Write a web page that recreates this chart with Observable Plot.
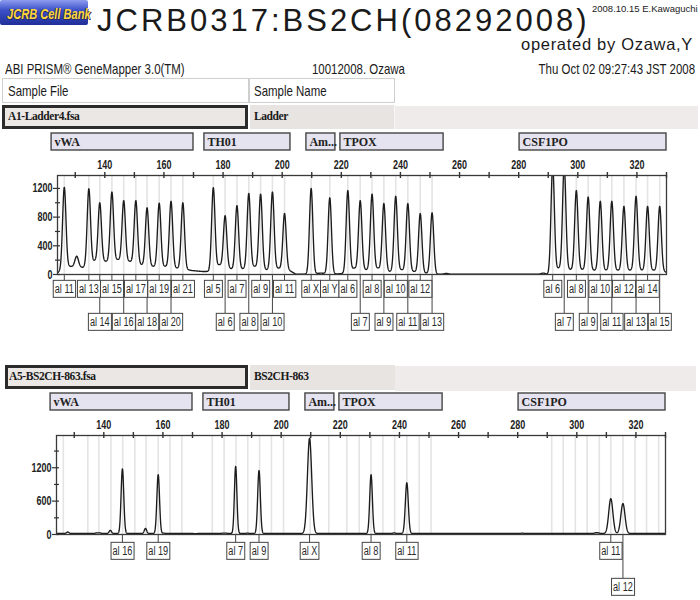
<!DOCTYPE html>
<html>
<head>
<meta charset="utf-8">
<script src="https://cdn.jsdelivr.net/npm/d3@7"></script>
<script src="https://cdn.jsdelivr.net/npm/@observablehq/plot@0.6"></script>
<style>
  html, body { margin: 0; padding: 0; background: #fff; }
  body { width: 700px; height: 600px; position: relative; overflow: hidden;
         font-family: "Liberation Sans", Arial, sans-serif; color: #1a1a1a; }
  .abs { position: absolute; white-space: nowrap; }
  .narrow { font-family: "Liberation Sans Narrow", "Arial Narrow", "Liberation Sans", sans-serif; transform: scaleX(0.79); transform-origin: 0 50%; }
  .narrowR { font-family: "Liberation Sans Narrow", "Arial Narrow", "Liberation Sans", sans-serif; transform: scaleX(0.79); transform-origin: 100% 50%; }
  .serifb { font-family: "Liberation Serif", "Times New Roman", serif; font-weight: bold; }
  .box { box-sizing: border-box; position: absolute; }
</style>
</head>
<body>
<div class="abs" style="left:0;top:0;width:88px;height:25px;background:linear-gradient(180deg,#8e9cf0 0%,#3d52c8 40%,#1f2f9a 100%);border-radius:2px;"></div>
<div class="abs narrow" style="left:7px;top:7px;font-size:14px;line-height:14px;font-weight:bold;font-style:italic;color:#ffd93b;text-shadow:1px 1px 0 #2a2a60,-1px 0 0 #2a2a60;">JCRB Cell Bank</div>

<div class="abs" style="left:97px;top:7px;font-size:31px;line-height:28px;letter-spacing:3px;">JCRB0317:BS2CH(08292008)</div>
<div class="abs" style="left:592px;top:4px;font-size:9.5px;line-height:9.5px;">2008.10.15 E.Kawaguchi</div>
<div class="abs" style="right:7px;top:36px;font-size:16.5px;line-height:16.5px;letter-spacing:0.7px;">operated by Ozawa,Y</div>

<div class="abs narrow" style="left:5px;top:62px;font-size:14.5px;line-height:14.5px;">ABI PRISM® GeneMapper 3.0(TM)</div>
<div class="abs narrow" style="left:312px;top:62px;font-size:14.5px;line-height:14.5px;">10012008. Ozawa</div>
<div class="abs narrowR" style="right:5px;top:62px;font-size:14.5px;line-height:14.5px;">Thu Oct 02 09:27:43 JST 2008</div>

<div class="box" style="left:2px;top:78px;width:247px;height:25px;border:1px solid #cfcfcf;background:#fff;"></div>
<div class="abs narrow" style="left:8px;top:84px;font-size:14.5px;line-height:14.5px;">Sample File</div>
<div class="box" style="left:249px;top:78px;width:146px;height:25px;border:1px solid #cfcfcf;background:#fff;"></div>
<div class="abs narrow" style="left:254px;top:84px;font-size:14.5px;line-height:14.5px;">Sample Name</div>

<div class="box" style="left:395px;top:106px;width:303px;height:23px;background:#efebea;"></div>
<div class="box" style="left:2px;top:105px;width:246px;height:24px;border:3px solid #2b2b2b;background:#ebe7e5;"></div>
<div class="abs serifb" style="left:8px;top:111px;font-size:11.5px;line-height:11.5px;letter-spacing:-0.4px;">A1-Ladder4.fsa</div>
<div class="box" style="left:250px;top:105px;width:145px;height:24px;background:#e8e4e2;border-right:1px solid #f6f6f6;"></div>
<div class="abs serifb" style="left:254px;top:111px;font-size:11.5px;line-height:11.5px;letter-spacing:-0.4px;">Ladder</div>

<div class="box" style="left:395px;top:366px;width:301px;height:25px;background:#efebea;"></div>
<div class="box" style="left:5px;top:365px;width:243px;height:24px;border:3px solid #2b2b2b;background:#ebe7e5;"></div>
<div class="abs serifb" style="left:9px;top:371px;font-size:11.5px;line-height:11.5px;letter-spacing:-0.4px;">A5-BS2CH-863.fsa</div>
<div class="box" style="left:250px;top:365px;width:145px;height:25px;background:#e8e4e2;"></div>
<div class="abs serifb" style="left:254px;top:371px;font-size:11.5px;line-height:11.5px;letter-spacing:-0.4px;">BS2CH-863</div>

<div id="top" class="abs" style="left:0;top:130px;"></div>
<div id="bottom" class="abs" style="left:0;top:390px;"></div>

<script>
// ---------------- data ----------------
const xDomain = [124, 330];
const xTickValues = d3.range(130, 331, 10);
const xLabelValues = [140, 160, 180, 200, 220, 240, 260, 280, 300, 320];

const locusNames = ["vWA", "TH01", "Am...", "TPOX", "CSF1PO"];
const locusStart = [122.0, 173.7, 208.2, 219.7, 280.3];
const locusEnd   = [170.0, 202.8, 218.0, 254.6, 330.0];

// Allelic ladder (top panel)
const ladderNames = ["al 11","al 13","al 14","al 15","al 16","al 17","al 18","al 19","al 20","al 21",
  "al 5","al 6","al 7","al 8","al 9","al 10","al 11",
  "al X","al Y",
  "al 6","al 7","al 8","al 9","al 10","al 11","al 12","al 13",
  "al 6","al 7","al 8","al 9","al 10","al 11","al 12","al 13","al 14","al 15"];
const ladderBp = [126.3,134.6,138.3,142.4,146.4,150.5,154.3,158.4,162.4,166.4,
  176.7,180.7,184.7,188.7,192.7,196.7,200.8,
  209.8,216.1,
  222.2,226.4,230.4,234.4,238.4,242.5,246.7,250.7,
  291.5,295.4,299.5,303.5,307.6,311.5,315.6,319.7,323.6,327.7];
const ladderHeight = [1215,1195,1000,1150,1030,1030,930,995,1020,1000,
  1210,820,960,1130,1120,1150,850,
  1200,1070,
  1170,1030,1120,990,1090,990,850,860,
  1520,1520,1170,1080,1020,1020,950,1090,950,950];
const ladderMinorBp = [130.5, 255.5, 288.3];
const ladderMinorHeight = [255, 15, 20];
const ladderBaseBp    = [124, 125, 125.6, 128.4, 132.6, 136.5, 140.4, 144.4, 148.5, 152.4, 156.4, 160.4, 164.4, 167.6, 169.5, 173, 175.2, 178.7, 182.7, 186.7, 190.7, 194.7, 198.7, 202.3, 204.6, 208.6, 213.0, 218.5, 221.0, 224.3, 228.4, 232.4, 236.4, 240.4, 244.6, 248.7, 252.2, 290.0, 293.5, 297.4, 301.5, 305.5, 309.5, 313.5, 317.6, 321.6, 325.6, 329.2, 330];
const ladderBaseLevel = [20, 60, 110, 113, 99, 193, 183, 207, 183, 137, 113, 113, 89, 70, 55, 42, 42, 137, 80, 80, 113, 66, 89, 60, 5, 5, 19, 8, 15, 89, 66, 89, 42, 66, 42, 19, 5, 5, 90, 70, 70, 60, 60, 60, 60, 60, 60, 40, 30];

// Sample BS2CH-863 (bottom panel)
const sampleNames  = ["al 16","al 19","al 7","al 9","al X","al 8","al 11","al 11","al 12"];
const sampleBp     = [146.3, 158.4, 184.6, 192.5, 209.6, 230.4, 242.5, 311.5, 315.6];
const sampleHeight = [1180, 1075, 1225, 1150, 1730, 1075, 930, 645, 555];
const sampleWidth  = [0.45, 0.45, 0.42, 0.45, 0.72, 0.45, 0.5, 0.7, 0.7];
const sampleMinorBp     = [127.8, 131.0, 137.6, 138.6, 142.2, 154.1, 160.3, 171.0, 180.3, 181.3, 188.6, 227.2, 238.2, 281.6, 306.3, 307.2];
const sampleMinorHeight = [45, 20, 30, 30, 75, 110, 25, 15, 25, 25, 25, 20, 30, 25, 30, 30];
const sampleBaseBp    = [124, 330];
const sampleBaseLevel = [18, 18];

// ---------------- helpers ----------------
function buildTrace(pBp, pH, pSig, bBp, bLv) {
  const base = d3.scaleLinear().domain(bBp).range(bLv).clamp(true);
  const pts = [];
  for (let k = 0; k <= 4120; k++) {
    const x = 124 + k * 0.05;
    let y = base(x);
    for (let i = 0; i < pBp.length; i++) {
      const d = x - pBp[i];
      const s = pSig[i];
      if (Math.abs(d) < 7 * s) y += (pH[i] - base(pBp[i])) * Math.exp(-d * d / (2 * s * s));
    }
    pts.push({x, y});
  }
  return pts;
}

const LABEL_FONT = "'Liberation Sans', Arial, sans-serif";
const LABEL_SIZE = 12;
const LABEL_SQUEEZE = 0.76;
const NUM_SQUEEZE = 0.72;
const canvas = document.createElement("canvas");
const ctx = canvas.getContext("2d");
ctx.font = LABEL_SIZE + "px " + LABEL_FONT;
const measure = s => ctx.measureText(s).width * LABEL_SQUEEZE;

function assignRows(bp, names, xScale) {
  let lastRight = -Infinity;
  return bp.map((b, i) => {
    const w = measure(names[i]) + 3;
    const cx = xScale(b);
    let row = 1;
    if (cx - w / 2 < lastRight - 3) row = 2; else lastRight = cx + w / 2;
    return {bp: b, name: names[i], row};
  });
}

const loci = locusNames.map((n, i) => ({name: n, start: locusStart[i], end: locusEnd[i]}));

function panel(cfg) {
  const marginTop = 45, innerH = 99;
  const marginLeft = cfg.marginLeft, marginRight = cfg.marginRight;
  const xs = d3.scaleLinear(xDomain, [marginLeft, 700 - marginRight]);
  const labels = assignRows(cfg.labelBp, cfg.labelNames, xs);
  const row1 = labels.filter(d => d.row === 1);
  const row2 = labels.filter(d => d.row === 2);
  const ymax = cfg.ymax;
  const x0 = xDomain[0];
  const svg = Plot.plot({
    width: 700,
    height: marginTop + innerH + cfg.marginBottom,
    marginTop, marginBottom: cfg.marginBottom, marginLeft, marginRight,
    x: {domain: xDomain, axis: null},
    y: {domain: [0, ymax], axis: null},
    style: {background: "transparent", overflow: "visible", fontFamily: "'Liberation Sans', Arial, sans-serif"},
    marks: [
      Plot.ruleX(ladderBp, {x: d => d, stroke: "#e4e4e4", strokeWidth: 1.6}),
      Plot.line(cfg.trace, {x: "x", y: "y", stroke: "#1c1c1c", strokeWidth: 1.35, clip: true}),
      Plot.frame({stroke: "#3a3a3a", strokeWidth: 1.3}),
      Plot.ruleX(xTickValues, {x: d => d, y1: ymax, y2: ymax, insetTop: -3, insetBottom: -3, stroke: "#333", strokeWidth: 1.4}),
      Plot.text(xLabelValues, {x: d => d, y: ymax, dy: -11, text: d => String(d), fontWeight: "bold", fontSize: 12.5, fill: "#222"}),
      Plot.ruleY(cfg.yTicks, {y: d => d, x1: x0, x2: x0, insetLeft: -4, insetRight: -3, stroke: "#333", strokeWidth: 1.2}),
      Plot.ruleY(cfg.yMinor, {y: d => d, x1: x0, x2: x0, insetLeft: -2, insetRight: -3, stroke: "#333", strokeWidth: 1.2}),
      Plot.text(cfg.yTicks, {x: x0, y: d => d, dx: -5, textAnchor: "end", text: d => String(d), fontWeight: "bold", fontSize: 12.5, fill: "#222"}),
      Plot.rect(loci, {x1: "start", x2: "end", y1: ymax, y2: ymax, insetTop: -42, insetBottom: 25, fill: "#e5e3ef", stroke: "#454545", strokeWidth: 1.4}),
      Plot.text(loci, {x: "start", y: ymax, dy: -33, dx: 3, textAnchor: "start", text: "name", fontFamily: "'Liberation Serif', 'Times New Roman', serif", fontWeight: "bold", fontSize: 12, fill: "#222"}),
      Plot.ruleX(row1, {x: "bp", y1: 0, y2: 0, insetTop: 0, insetBottom: -cfg.rowOff[0], stroke: "#444", strokeWidth: 1}),
      Plot.ruleX(row2, {x: "bp", y1: 0, y2: 0, insetTop: 0, insetBottom: -cfg.rowOff[1], stroke: "#444", strokeWidth: 1}),
      Plot.text(row1, {x: "bp", y: 0, dy: cfg.rowOff[0] + 8.5, text: "name", fontFamily: LABEL_FONT, fontSize: LABEL_SIZE, fill: "#2a2a2a"}),
      Plot.text(row2, {x: "bp", y: 0, dy: cfg.rowOff[1] + 8.5, text: "name", fontFamily: LABEL_FONT, fontSize: LABEL_SIZE, fill: "#2a2a2a"})
    ]
  });
  document.getElementById(cfg.target).appendChild(svg);
  svg.querySelectorAll("text").forEach(t => {
    const s = t.textContent;
    const isLabel = /^al /.test(s);
    const isNum = /^\d+$/.test(s);
    if (!isLabel && !isNum) return;
    const w = t.getComputedTextLength();
    t.setAttribute("textLength", (w * (isLabel ? LABEL_SQUEEZE : NUM_SQUEEZE)).toFixed(2));
    t.setAttribute("lengthAdjust", "spacingAndGlyphs");
    if (!isLabel) return;
    const bb = t.getBBox();
    const r = document.createElementNS("http://www.w3.org/2000/svg", "rect");
    r.setAttribute("x", bb.x - 1.5);
    r.setAttribute("y", bb.y + bb.height / 2 - 8.5);
    r.setAttribute("width", bb.width + 3);
    r.setAttribute("height", 17);
    r.setAttribute("fill", "#fff");
    r.setAttribute("stroke", "#444");
    r.setAttribute("stroke-width", 1);
    const tr = t.getAttribute("transform");
    if (tr) r.setAttribute("transform", tr);
    t.parentNode.insertBefore(r, t);
  });
}

const ladderAllBp = ladderBp.concat(ladderMinorBp);
const ladderAllH = ladderHeight.concat(ladderMinorHeight);
const ladderAllSig = ladderAllBp.map((d, i) => i < ladderBp.length ? 0.56 : 0.6);
const ladderTrace = buildTrace(ladderAllBp, ladderAllH, ladderAllSig, ladderBaseBp, ladderBaseLevel);

const sampleAllBp = sampleBp.concat(sampleMinorBp);
const sampleAllH = sampleHeight.concat(sampleMinorHeight);
const sampleAllSig = sampleWidth.concat(sampleMinorBp.map(() => 0.4));
const sampleTrace = buildTrace(sampleAllBp, sampleAllH, sampleAllSig, sampleBaseBp, sampleBaseLevel);

panel({target: "top", trace: ladderTrace, ymax: 1380, yTicks: [0, 400, 800, 1200], yMinor: [200, 600, 1000],
       labelBp: ladderBp, labelNames: ladderNames, rowOff: [6, 39], marginBottom: 60, marginLeft: 57, marginRight: 34});
panel({target: "bottom", trace: sampleTrace, ymax: 1780, yTicks: [0, 600, 1200], yMinor: [300, 900, 1500],
       labelBp: sampleBp, labelNames: sampleNames, rowOff: [8, 44], marginBottom: 64, marginLeft: 56, marginRight: 35});
</script>
</body>
</html>
